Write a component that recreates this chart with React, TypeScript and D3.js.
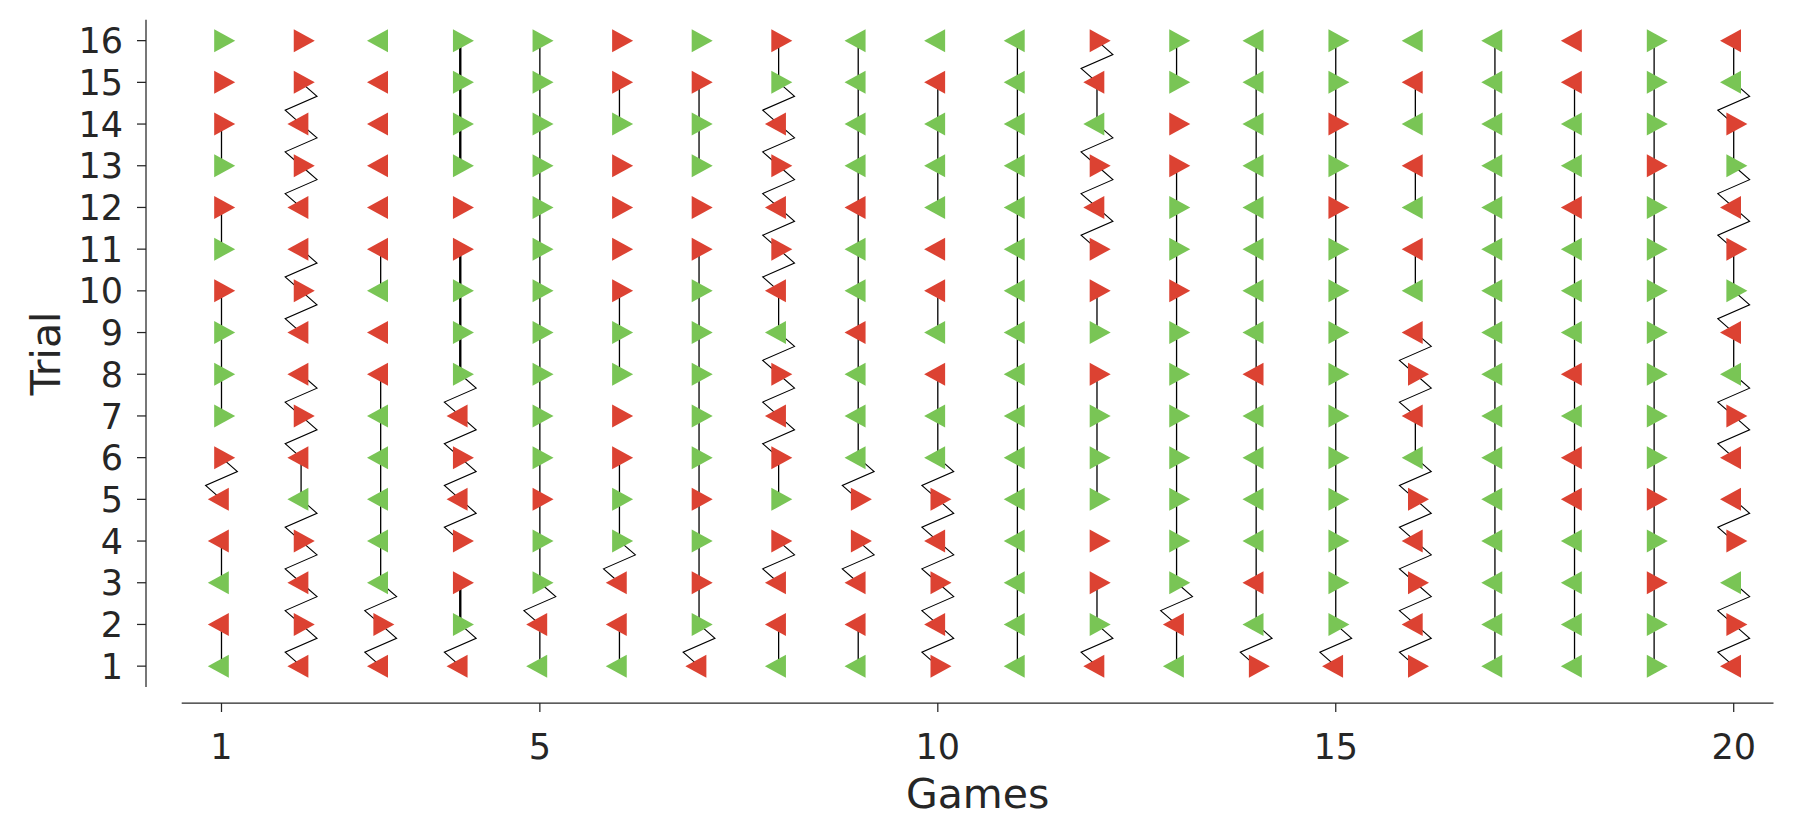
import React from 'react';
import * as d3 from 'd3';

// one string per game, trial 1 -> 16
// choice: L / R (triangle direction), outcome: G / R (green / red)
const games = d3.range(1, 21);
const trials = d3.range(1, 17);

const choices = [
  'LLLLLRRRRRRRRRRR', 'LRLRLLRLLRLLRLRR', 'LRLLLLLLLLLLLLLL', 'LRRRLRLRRRRRRRRR',
  'LLRRRRRRRRRRRRRR', 'LLLRRRRRRRRRRRRR', 'LRRRRRRRRRRRRRRR', 'LLLRRRLRLLRLRLRR',
  'LLLRRLLLLLLLLLLL', 'RLRLRLLLLLLLLLLL', 'LLLLLLLLLLLLLLLL', 'LRRRRRRRRRRLRLLR',
  'LLRRRRRRRRRRRRRR', 'RLLLLLLLLLLLLLLL', 'LRRRRRRRRRRRRRRR', 'RLRLRLLRLLLLLLLL',
  'LLLLLLLLLLLLLLLL', 'LLLLLLLLLLLLLLLL', 'RRRRRRRRRRRRRRRR', 'LRLRLLRLLRRLRRLL',
];

const outcomes = [
  'GRGRRRGGGRGRGRRG', 'RRRRGRRRRRRRRRRR', 'RRGGGGGRRGRRRRRG', 'RGRRRRRGGGRRGGGG',
  'GRGGRGGGGGGGGGGG', 'GRRGGRRGGRRRRGRR', 'RGRGRGGGGGRRGGRG', 'GRRRGRRRGRRRRRGR',
  'GRRRRGGGRGGRGGGG', 'RRRRRGGRGRRGGGRG', 'GGGGGGGGGGGGGGGG', 'RGRRGGGRGRRRRGRR',
  'GRGGGGGGGRGGRRGG', 'RGRGGGGRGGGGGGGG', 'RGGGGGGGGGGRGRGG', 'RRRRRGRRRGRGRGRG',
  'GGGGGGGGGGGGGGGG', 'GGGGRRGRGGGRGGRR', 'GGRGRGGGGGGGRGGG', 'RRGRRRRGRGRRGRGR',
];

// link from trial t to t+1: '|' stay line, 'z' switch zigzag, '.' nothing
const links = [
  '|.|.z.|||.|.|..', 'zzzz|zz.zz.zzz.', 'zz|||||..|.....', 'z|.zzzz|||..|||',
  '|z|||||||||||||', '|.z||..||....|.', 'z|||||||||..||.', '|.z.|zzz|zzzzz|',
  '|.z.z||||||||||', 'zzzzz||.|..|||.', '|||||||||||||||', 'z|..|||.|.zzz|z',
  '|z||||||||||..|', 'z||||||||||||||', 'z||||||||||||||', 'zzzzz|zz.|.|.|.',
  '|||||||||||||||', '||||||||||||||.', '|||||||||||||||', 'zz.z.zz|z|zz|z|',
];

const xTicks = [1, 5, 10, 15, 20];

const GREEN = '#79c555';
const RED = '#dc4232';
const INK = '#262626';
const FONT = 'DejaVu Sans, sans-serif';

export default function App() {
  const width = 1816;
  const height = 833;

  const x = d3.scaleLinear().domain([0.5, 20.5]).range([181.7, 1773.5]);
  const y = d3.scaleLinear().domain([0.5, 16.5]).range([687, 19.8]);

  const line = d3.line<[number, number]>()
    .x(d => x(d[0]))
    .y(d => y(d[1]));

  const axisY = 703;
  const axisX = 146;

  const tri = (g: number, t: number, dir: string) => {
    const cx = x(g + (dir === 'R' ? 0.04 : -0.04));
    const cy = y(t);
    const hw = 10.5, hh = 11.5;
    if (dir === 'R') return `M${cx - hw},${cy - hh}L${cx + hw},${cy}L${cx - hw},${cy + hh}Z`;
    return `M${cx + hw},${cy - hh}L${cx - hw},${cy}L${cx + hw},${cy + hh}Z`;
  };

  return (
    <svg width={width} height={height} style={{ position: 'absolute', left: 0, top: 0, background: '#fff' }}>
      {/* connections */}
      <g fill="none" stroke="#000">
        {games.map((g, gi) =>
          links[gi].split('').map((k, i) => {
            const t = i + 1;
            if (k === '|') {
              return (
                <path key={`${g}-${t}`} d={line([[g, t], [g, t + 1]]) || ''}
                  strokeWidth={g === 4 ? 2.4 : 1.3} />
              );
            }
            if (k === 'z') {
              const pts: [number, number][] = [
                [g, t + 1], [g + 0.2, t + 1 - 1 / 3], [g - 0.2, t + 1 - 2 / 3], [g, t],
              ];
              return <path key={`${g}-${t}`} d={line(pts) || ''} strokeWidth={1.1} strokeLinejoin="miter" />;
            }
            return null;
          })
        )}
      </g>

      {/* markers */}
      <g>
        {games.map((g, gi) =>
          trials.map((t, ti) => (
            <path key={`${g}-${t}`} d={tri(g, t, choices[gi][ti])}
              fill={outcomes[gi][ti] === 'G' ? GREEN : RED} />
          ))
        )}
      </g>

      {/* y axis */}
      <g stroke={INK} strokeWidth={1.25}>
        <line x1={axisX} x2={axisX} y1={y(0.5)} y2={y(16.5)} />
        {trials.map(t => (
          <line key={t} x1={axisX - 9} x2={axisX} y1={y(t)} y2={y(t)} />
        ))}
      </g>
      <g fill={INK} fontFamily={FONT} fontSize={35} textAnchor="end">
        {trials.map(t => (
          <text key={t} x={123} y={y(t)} dy="0.36em">{t}</text>
        ))}
      </g>
      <text transform={`translate(60,${(y(0.5) + y(16.5)) / 2}) rotate(-90)`}
        textAnchor="middle" fill={INK} fontFamily={FONT} fontSize={41}>Trial</text>

      {/* x axis */}
      <g stroke={INK} strokeWidth={1.25}>
        <line x1={x(0.5)} x2={x(20.5)} y1={axisY} y2={axisY} />
        {xTicks.map(v => (
          <line key={v} x1={x(v)} x2={x(v)} y1={axisY} y2={axisY + 9} />
        ))}
      </g>
      <g fill={INK} fontFamily={FONT} fontSize={35} textAnchor="middle">
        {xTicks.map(v => (
          <text key={v} x={x(v)} y={759}>{v}</text>
        ))}
      </g>
      <text x={(x(0.5) + x(20.5)) / 2} y={808} textAnchor="middle" fill={INK}
        fontFamily={FONT} fontSize={41}>Games</text>
    </svg>
  );
}
